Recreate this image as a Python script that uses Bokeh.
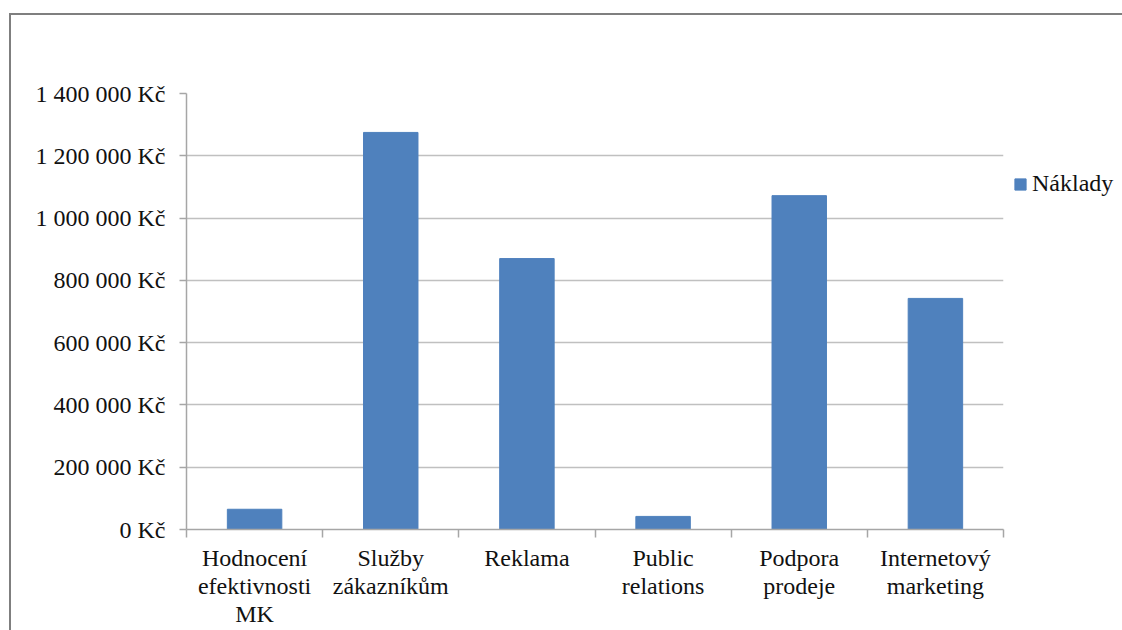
import numpy as np
from bokeh.plotting import figure
from bokeh.models import Range1d, FixedTicker, Legend, LegendItem
from bokeh.embed import file_html
from bokeh.resources import INLINE

categories = ["Hodnocení\nefektivnosti\nMK", "Služby\nzákazníkům", "Reklama",
              "Public\nrelations", "Podpora\nprodeje", "Internetový\nmarketing"]
naklady = [65000, 1275000, 870000, 42000, 1072000, 742000]
series_name = "Náklady"
y_ticks = [0, 200000, 400000, 600000, 800000, 1000000, 1200000, 1400000]
y_tick_labels = ["0 Kč", "200 000 Kč", "400 000 Kč", "600 000 Kč", "800 000 Kč",
                 "1 000 000 Kč", "1 200 000 Kč", "1 400 000 Kč"]

FONT = "Liberation Serif"
FS = "24px"
TXT = "#111111"
BAR = "#4F81BD"

n = len(categories)
xs = np.arange(n) + 0.5

W, H = 1111, 615
p = figure(width=W, height=H, x_range=Range1d(0, n), y_range=Range1d(0, 1400000),
           output_backend="svg", toolbar_location=None,
           min_border_left=175, min_border_top=78, min_border_right=119, min_border_bottom=101)
p.frame_width = 817
p.frame_height = 436
p.styles = {"margin-left": "9px", "margin-top": "13px",
            "border-left": "2px solid #7f7f7f", "border-top": "2px solid #7f7f7f"}
p.outline_line_color = None
p.background_fill_color = "white"
p.border_fill_color = "white"

r = p.vbar(x=xs, top=naklady, width=0.4, bottom=0, fill_color=BAR, line_color=BAR)

# y axis
p.yaxis.ticker = FixedTicker(ticks=y_ticks, minor_ticks=[])
p.yaxis.major_label_overrides = {t: l for t, l in zip(y_ticks, y_tick_labels)}
p.yaxis.major_label_text_font = FONT
p.yaxis.major_label_text_font_size = FS
p.yaxis.major_label_text_color = TXT
p.yaxis.major_tick_out = 7
p.yaxis.major_tick_in = 0
p.yaxis.major_tick_line_color = "#a6a6a6"
p.yaxis.major_tick_line_width = 1.5
p.yaxis.major_label_standoff = 14
p.yaxis.axis_line_color = "#a6a6a6"
p.yaxis.axis_line_width = 1.5
p.yaxis.minor_tick_line_color = None

# x axis
p.xaxis.ticker = FixedTicker(ticks=list(xs), minor_ticks=list(np.arange(n + 1)))
p.xaxis.major_label_overrides = {float(x): c for x, c in zip(xs, categories)}
p.xaxis.major_label_text_font = FONT
p.xaxis.major_label_text_font_size = FS
p.xaxis.major_label_text_color = TXT
p.xaxis.major_label_text_line_height = 1.08
p.xaxis.major_tick_line_color = None
p.xaxis.major_tick_out = 0
p.xaxis.major_tick_in = 0
p.xaxis.major_label_standoff = 7
p.xaxis.minor_tick_out = 8
p.xaxis.minor_tick_in = 0
p.xaxis.minor_tick_line_color = "#a6a6a6"
p.xaxis.minor_tick_line_width = 1.5
p.xaxis.axis_line_color = "#a6a6a6"
p.xaxis.axis_line_width = 1.5

p.xgrid.grid_line_color = None
p.ygrid.ticker = FixedTicker(ticks=y_ticks)
p.ygrid.grid_line_color = "#c0c0c0"
p.ygrid.grid_line_width = 1.5

legend = Legend(items=[LegendItem(label=series_name, renderers=[r])])
legend.location = (10, 332)
legend.margin = 0
legend.padding = 0
legend.glyph_width = 14
legend.glyph_height = 14
legend.label_standoff = 5
legend.label_text_font = FONT
legend.label_text_font_size = FS
legend.label_text_color = TXT
legend.border_line_color = None
legend.background_fill_alpha = 0
p.add_layout(legend, "right")

open("out.html", "w").write(file_html(p, INLINE))
